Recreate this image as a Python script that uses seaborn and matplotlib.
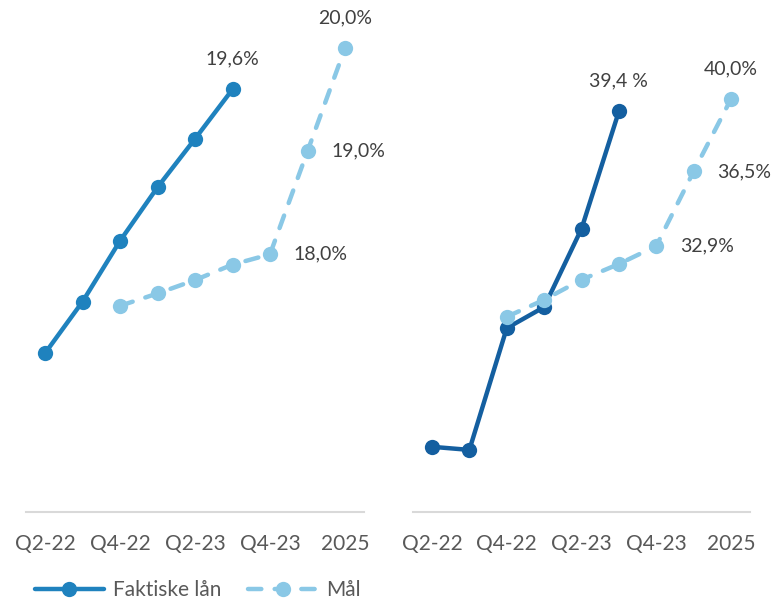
import matplotlib
matplotlib.use("Agg")
import matplotlib.pyplot as plt
import seaborn as sns
import pandas as pd
import numpy as np

# Quarter categories shared by both panels
categories = ["Q2-22", "Q3-22", "Q4-22", "Q1-23", "Q2-23", "Q3-23", "Q4-23", "2024", "2025"]
tick_labels = ["Q2-22", "", "Q4-22", "", "Q2-23", "", "Q4-23", "", "2025"]

# Left panel (%)
left_actual_cats = ["Q2-22", "Q3-22", "Q4-22", "Q1-23", "Q2-23", "Q3-23"]
left_actual = [17.04, 17.54, 18.13, 18.65, 19.12, 19.6]
left_target_cats = ["Q4-22", "Q1-23", "Q2-23", "Q3-23", "Q4-23", "2024", "2025"]
left_target = [17.50, 17.62, 17.75, 17.90, 18.0, 19.0, 20.0]

# Right panel (%)
right_actual_cats = ["Q2-22", "Q3-22", "Q4-22", "Q1-23", "Q2-23", "Q3-23"]
right_actual = [23.2, 23.05, 28.93, 29.95, 33.73, 39.4]
right_target_cats = ["Q4-22", "Q1-23", "Q2-23", "Q3-23", "Q4-23", "2024", "2025"]
right_target = [29.48, 30.30, 31.27, 32.03, 32.9, 36.5, 40.0]

series_names = ["Faktiske lån", "Mål"]

LEFT_BLUE = "#1F82BE"
RIGHT_BLUE = "#145FA0"
LIGHT_BLUE = "#8AC8E6"
TICK_GREY = "#595959"
LABEL_GREY = "#404040"

sns.set_theme(style="white")
plt.rcParams["font.family"] = ["Lato", "DejaVu Sans"]


def frame(cats, vals):
    return pd.DataFrame({"pos": [categories.index(c) for c in cats], "value": vals})


def fmt(v, sep="%"):
    return f"{v:.1f}".replace(".", ",") + sep


fig = plt.figure(figsize=(7.72, 6.01), dpi=100)
ax_l = fig.add_axes([26.25 / 772, 1 - 512 / 601, 337.5 / 772, 502 / 601])
ax_r = fig.add_axes([413.3 / 772, 1 - 512 / 601, 336.4 / 772, 502 / 601])

line_kw = dict(marker="o", markersize=11, linewidth=3.2, markeredgewidth=0)
dash_kw = dict(marker="o", markersize=11, linewidth=3.2, markeredgewidth=0,
               linestyle=(0, (3.0, 3.0)), dash_capstyle="round")

panels = [
    (ax_l, left_actual_cats, left_actual, left_target_cats, left_target, LEFT_BLUE, (15.5, 20.37)),
    (ax_r, right_actual_cats, right_actual, right_target_cats, right_target, RIGHT_BLUE, (20.05, 44.3)),
]

for ax, a_cats, a_vals, t_cats, t_vals, a_col, ylim in panels:
    sns.lineplot(data=frame(a_cats, a_vals), x="pos", y="value", color=a_col,
                 label=series_names[0], ax=ax, zorder=3, **line_kw)
    sns.lineplot(data=frame(t_cats, t_vals), x="pos", y="value", color=LIGHT_BLUE,
                 label=series_names[1], ax=ax, zorder=4, **dash_kw)
    ax.set_xlim(-0.5, len(categories) - 0.5)
    ax.set_ylim(*ylim)
    ax.set_xticks(range(len(categories)))
    ax.set_xticklabels(tick_labels)
    ax.tick_params(axis="x", length=0, pad=16, labelsize=15, colors=TICK_GREY)
    ax.set_yticks([])
    ax.set_xlabel("")
    ax.set_ylabel("")
    for side in ["top", "left", "right"]:
        ax.spines[side].set_visible(False)
    ax.spines["bottom"].set_color("#D9D9D9")
    ax.spines["bottom"].set_linewidth(1.5)
    ax.get_legend().remove()
    ax.set_facecolor("none")

label_kw = dict(textcoords="offset points", fontsize=14, color=LABEL_GREY, va="center")

# Left panel value labels
ax_l.annotate(fmt(left_actual[-1]), (categories.index(left_actual_cats[-1]), left_actual[-1]),
              xytext=(0, 22), ha="center", **label_kw)
ax_l.annotate(fmt(left_target[-1]), (categories.index(left_target_cats[-1]), left_target[-1]),
              xytext=(0, 22), ha="center", **label_kw)
for i in (-2, -3):
    ax_l.annotate(fmt(left_target[i]), (categories.index(left_target_cats[i]), left_target[i]),
                  xytext=(17, 0), ha="left", **label_kw)

# Right panel value labels
ax_r.annotate(fmt(right_actual[-1], " %"), (categories.index(right_actual_cats[-1]), right_actual[-1]),
              xytext=(0, 22), ha="center", **label_kw)
ax_r.annotate(fmt(right_target[-1]), (categories.index(right_target_cats[-1]), right_target[-1]),
              xytext=(0, 22), ha="center", **label_kw)
for i in (-2, -3):
    ax_r.annotate(fmt(right_target[i]), (categories.index(right_target_cats[i]), right_target[i]),
                  xytext=(17, 0), ha="left", **label_kw)

handles, labels = ax_l.get_legend_handles_labels()
fig.legend(handles, labels, loc="center", bbox_to_anchor=(198 / 772, 1 - 590 / 601),
           ncol=2, frameon=False, fontsize=15, handlelength=3.3, handletextpad=0.45,
           columnspacing=1.3, labelcolor=TICK_GREY)

fig.savefig("out.png", dpi=100)
